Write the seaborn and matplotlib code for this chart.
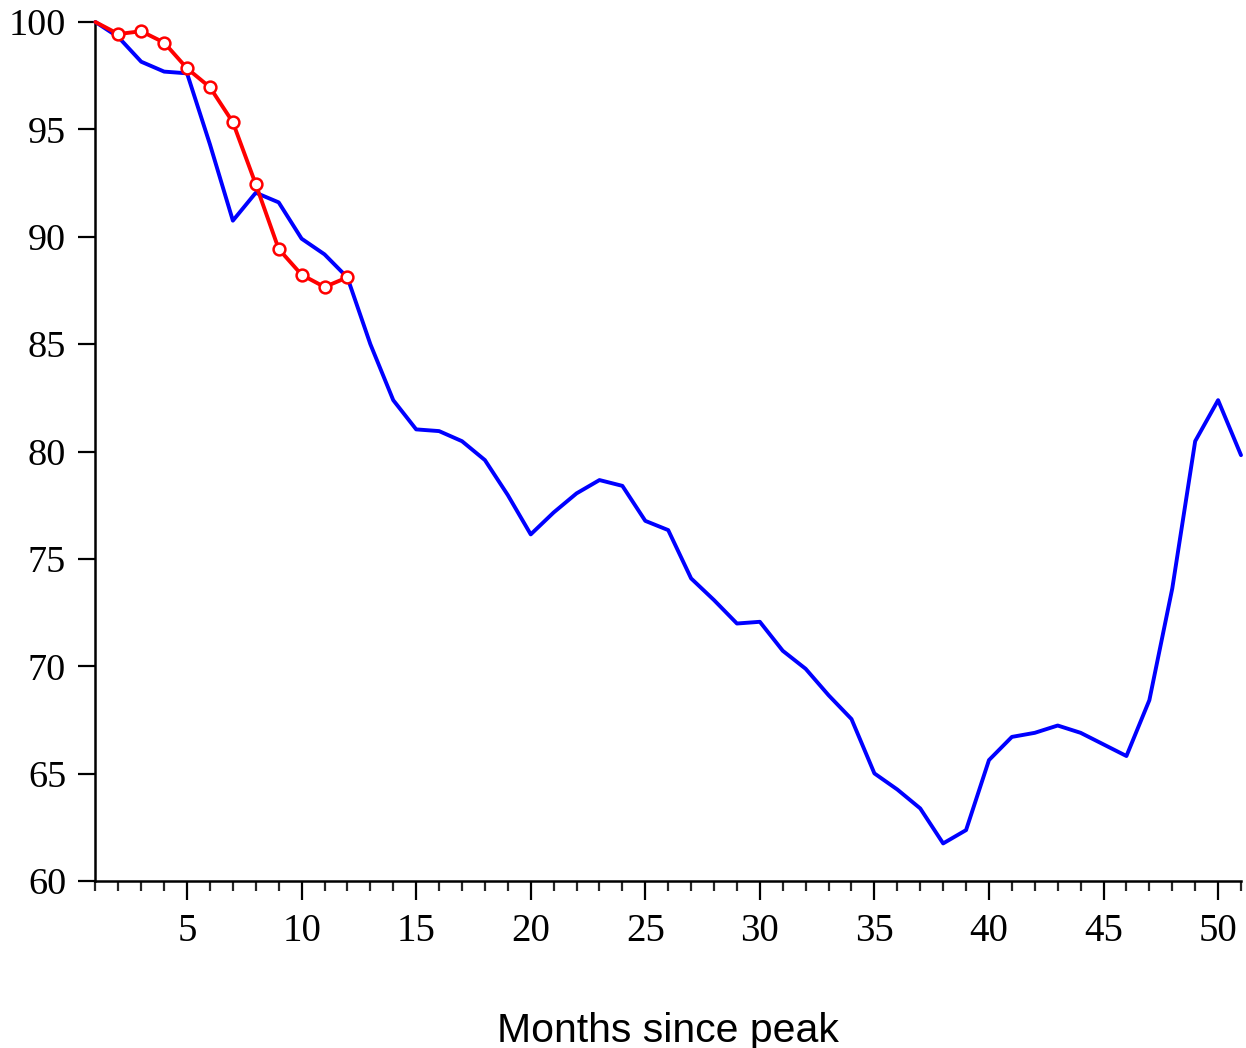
import matplotlib
matplotlib.use("Agg")
import matplotlib.pyplot as plt
import seaborn as sns
import pandas as pd
from matplotlib.ticker import MultipleLocator

months = list(range(1, 52))
blue_values = [100.0, 99.3, 98.15, 97.69, 97.61, 94.3, 90.75, 92.05, 91.6, 89.91,
               89.18, 88.1, 85.0, 82.39, 81.03, 80.95, 80.48, 79.6, 77.97, 76.14,
               77.16, 78.05, 78.67, 78.4, 76.77, 76.34, 74.09, 73.08, 71.99, 72.07,
               70.72, 69.88, 68.65, 67.54, 65.01, 64.26, 63.38, 61.75, 62.37, 65.63,
               66.71, 66.9, 67.24, 66.9, 66.36, 65.82, 68.42, 73.62, 80.48, 82.39,
               79.83]
red_months = list(range(1, 13))
red_values = [100.0, 99.44, 99.57, 99.04, 97.84, 96.96, 95.33, 92.44, 89.43, 88.23,
              87.66, 88.11]
x_label = "Months since peak"
y_ticks = [60, 65, 70, 75, 80, 85, 90, 95, 100]
x_ticks = [5, 10, 15, 20, 25, 30, 35, 40, 45, 50]

sns.set_style("ticks")
plt.rcParams['font.family'] = ['Liberation Serif', 'DejaVu Serif']

fig = plt.figure(figsize=(12.46, 10.48), dpi=100)
ax = fig.add_axes([95.4 / 1246, 1 - 881 / 1048, (1241 - 95.4) / 1246, (881 - 22) / 1048])

df_blue = pd.DataFrame({"month": months, "value": blue_values})
df_red = pd.DataFrame({"month": red_months, "value": red_values})

sns.lineplot(data=df_blue, x="month", y="value", ax=ax, color="#0000ff",
             linewidth=2.8, clip_on=False, zorder=3)
sns.lineplot(data=df_red, x="month", y="value", ax=ax, color="#ff0000",
             linewidth=2.8, marker="o", markersize=8.5, markerfacecolor="white",
             markeredgecolor="#ff0000", markeredgewidth=1.8,
             markevery=list(range(1, len(red_values))), clip_on=False, zorder=4)

ax.set_xlim(1, 51)
ax.set_ylim(60, 100)
ax.set_yticks(y_ticks)
ax.set_xticks(x_ticks)
ax.xaxis.set_minor_locator(MultipleLocator(1))

for s in ["top", "right"]:
    ax.spines[s].set_visible(False)
for s in ["left", "bottom"]:
    ax.spines[s].set_linewidth(1.8)
    ax.spines[s].set_color("black")

ax.tick_params(axis="y", which="major", direction="out", length=12, width=1.6,
               labelsize=27.5, pad=9, colors="black")
ax.tick_params(axis="x", which="major", direction="out", length=14, width=1.6,
               labelsize=28, pad=9, colors="black")
ax.tick_params(axis="x", which="minor", direction="out", length=7.5, width=1.6)

ax.set_ylabel("")
ax.set_xlabel(x_label, fontsize=29.5, family=["Liberation Sans", "DejaVu Sans"],
              labelpad=45, color="black")

fig.savefig("out.png", dpi=100, facecolor="white")
